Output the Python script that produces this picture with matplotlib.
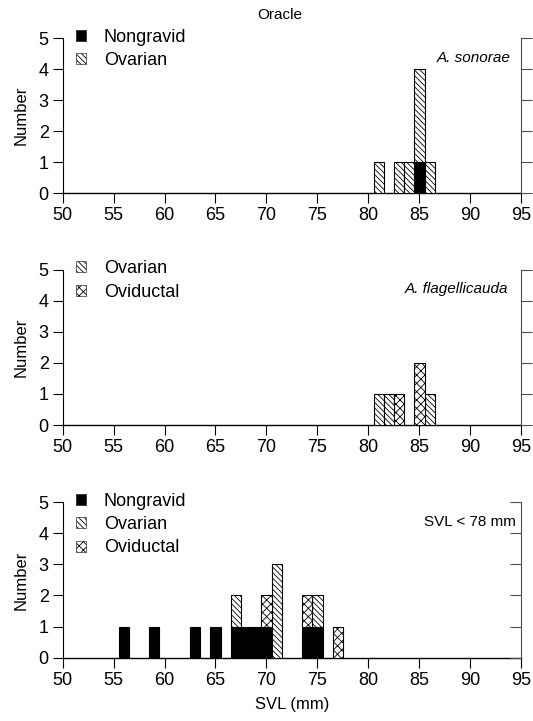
import matplotlib
matplotlib.use("Agg")
import matplotlib.pyplot as plt
import numpy as np
from matplotlib.patches import Patch

plt.rcParams["font.family"] = ["Liberation Sans", "DejaVu Sans"]
plt.rcParams["hatch.linewidth"] = 0.6

# A. sonorae
son_svl = [81, 83, 84, 85, 86]
son_nongravid = [0, 0, 0, 1, 0]
son_ovarian = [1, 1, 1, 3, 1]

# A. flagellicauda
flag_svl = [81, 82, 83, 85, 86]
flag_ovarian = [1, 1, 0, 0, 1]
flag_oviductal = [0, 0, 1, 2, 0]

# SVL < 78 mm
small_svl = [56, 59, 63, 65, 67, 68, 69, 70, 71, 74, 75, 77]
small_nongravid = [1, 1, 1, 1, 1, 1, 1, 1, 0, 1, 1, 0]
small_ovarian = [0, 0, 0, 0, 1, 0, 0, 0, 3, 0, 1, 0]
small_oviductal = [0, 0, 0, 0, 0, 0, 0, 1, 0, 1, 0, 1]

x_ticks = [50, 55, 60, 65, 70, 75, 80, 85, 90, 95]
y_ticks = [0, 1, 2, 3, 4, 5]

styles = {
    "Nongravid": dict(facecolor="black", hatch=None),
    "Ovarian": dict(facecolor="white", hatch="\\" * 6),
    "Oviductal": dict(facecolor="white", hatch="xxxx"),
}


def stacked_bars(ax, svl, series):
    svl = np.array(svl)
    bottom = np.zeros(len(svl))
    for name, counts in series:
        counts = np.array(counts, dtype=float)
        keep = counts > 0
        st = styles[name]
        ax.bar(svl[keep], counts[keep], width=1.0, bottom=bottom[keep],
               color=st["facecolor"], hatch=st["hatch"], edgecolor="black",
               linewidth=0.8, zorder=3)
        bottom += counts


def format_axes(ax, names, note, note_x, italic, right_dir):
    ax.set_xlim(50, 95)
    ax.set_ylim(0, 5)
    ax.set_xticks(x_ticks)
    ax.set_yticks(y_ticks)
    ax.tick_params(axis="x", direction="out", length=7, width=0.8, pad=3, labelsize=13)
    ax.tick_params(axis="y", direction="out", length=7, width=0.8, pad=3, labelsize=13)
    ax.spines["top"].set_visible(False)
    ax.spines["right"].set_visible(False)
    ax.spines["left"].set_linewidth(0.8)
    ax.spines["bottom"].set_linewidth(1.0)
    ax.set_ylabel("Number", fontsize=12, labelpad=7)

    # right-hand axis line with its own ticks
    ax2 = ax.twinx()
    ax2.set_ylim(0, 5)
    ax2.set_yticks(y_ticks)
    ax2.tick_params(axis="y", direction=right_dir, length=8, width=0.8,
                    labelright=False, color="0.3")
    for s in ["top", "left", "bottom"]:
        ax2.spines[s].set_visible(False)
    ax2.spines["right"].set_color("0.3")
    ax2.spines["right"].set_linewidth(0.8)

    handles = [Patch(facecolor=styles[n]["facecolor"], hatch=styles[n]["hatch"],
                     edgecolor="black", linewidth=0.4, label=n) for n in names]
    ax.legend(handles=handles, loc="upper left", bbox_to_anchor=(0.029, 1.06),
              borderaxespad=0, borderpad=0, frameon=False, fontsize=13,
              handlelength=0.55, handleheight=0.55, handletextpad=1.0,
              labelspacing=0.35)
    ax.text(note_x, 0.875, note, transform=ax.transAxes, ha="right", va="center",
            fontsize=11, style="italic" if italic else "normal")


fig = plt.figure(figsize=(5.33, 7.21), dpi=100)
ax_top = fig.add_axes([0.1173, 0.7319, 0.861, 0.215])
ax_mid = fig.add_axes([0.1173, 0.4105, 0.861, 0.2156])
ax_bot = fig.add_axes([0.1173, 0.0878, 0.861, 0.2157])

stacked_bars(ax_top, son_svl, [("Nongravid", son_nongravid), ("Ovarian", son_ovarian)])
format_axes(ax_top, ["Nongravid", "Ovarian"], "A. sonorae", 0.977, True, "out")

stacked_bars(ax_mid, flag_svl, [("Ovarian", flag_ovarian), ("Oviductal", flag_oviductal)])
format_axes(ax_mid, ["Ovarian", "Oviductal"], "A. flagellicauda", 0.971, True, "out")

stacked_bars(ax_bot, small_svl, [("Nongravid", small_nongravid), ("Ovarian", small_ovarian),
                                 ("Oviductal", small_oviductal)])
format_axes(ax_bot, ["Nongravid", "Ovarian", "Oviductal"], "SVL < 78 mm", 0.988, False, "in")
ax_bot.set_xlabel("SVL (mm)", fontsize=12, labelpad=6)

fig.text(279.5 / 533, 1 - 15 / 721, "Oracle", ha="center", va="center", fontsize=11)

fig.savefig("out.png", dpi=100)
